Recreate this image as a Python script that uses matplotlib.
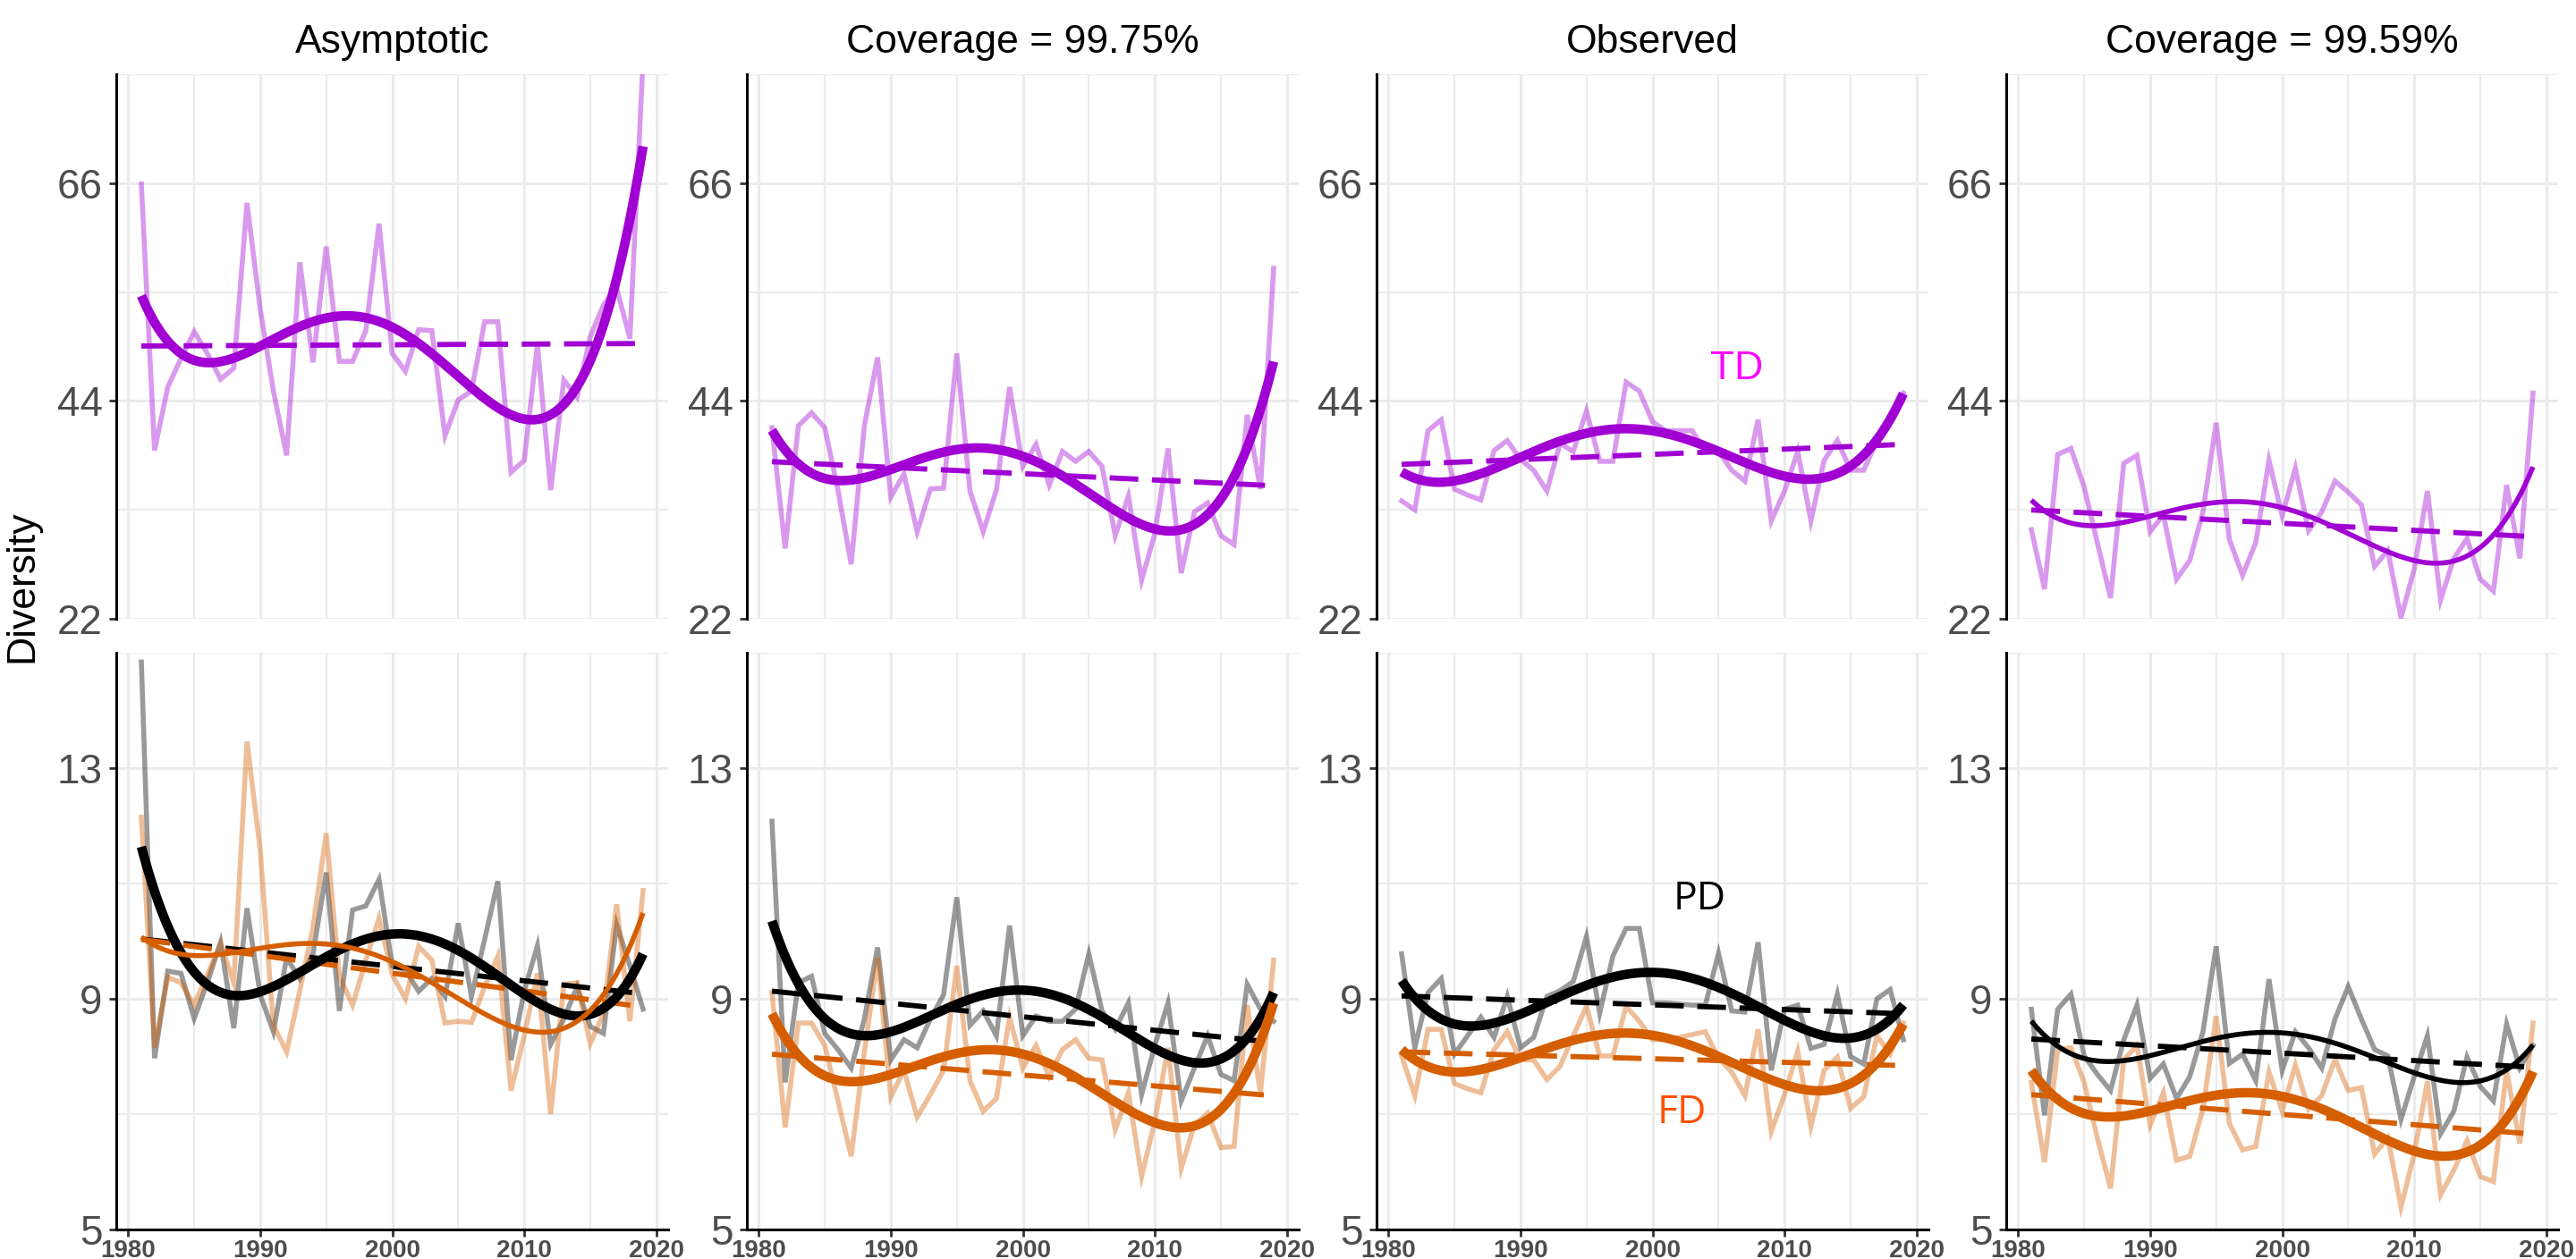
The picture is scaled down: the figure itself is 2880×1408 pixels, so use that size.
import numpy as np
import matplotlib.pyplot as plt

plt.rcParams['font.family'] = ['Liberation Sans', 'DejaVu Sans']

years = list(range(1981, 2020))
titles = ["Asymptotic", "Coverage = 99.75%", "Observed", "Coverage = 99.59%"]

# taxonomic diversity (TD)
td_asymptotic = [65.9, 39.0, 45.4, 48.3, 51.0, 48.8, 46.2, 47.3, 64.0, 53.3,
                 45.0, 38.5, 58.0, 47.9, 59.6, 48.0, 48.0, 51.1, 61.9, 48.8,
                 47.0, 51.2, 51.1, 40.5, 44.1, 45.0, 52.0, 52.0, 36.8, 38.0,
                 49.7, 35.0, 46.1, 44.4, 50.5, 53.7, 55.4, 50.3, 78.5]
td_cov_1 = [41.3, 29.1, 41.5, 42.8, 41.3, 35.0, 27.5, 41.5, 48.4, 34.3,
            36.6, 30.8, 35.1, 35.2, 48.8, 34.9, 30.8, 35.0, 45.4, 37.4,
            39.6, 35.5, 38.9, 37.9, 38.9, 37.4, 30.4, 34.4, 25.9, 30.6,
            39.2, 26.6, 32.8, 33.7, 30.4, 29.5, 42.6, 35.1, 57.4]
td_observed = [33.9, 33.0, 41.0, 42.1, 35.1, 34.5, 34.0, 39.0, 40.0, 38.1,
               37.0, 34.9, 39.7, 38.9, 43.0, 37.9, 37.9, 45.9, 45.0, 41.9,
               41.0, 41.0, 41.0, 38.9, 38.9, 37.0, 35.9, 42.1, 31.9, 34.9,
               38.9, 31.9, 38.0, 40.0, 37.0, 37.0, 40.0, 42.6, 44.8]
td_cov_2 = [31.0, 25.0, 38.6, 39.2, 35.3, 29.7, 24.1, 37.7, 38.5, 30.8,
            32.5, 26.0, 27.9, 32.8, 41.8, 30.0, 26.4, 29.7, 38.0, 32.4,
            37.2, 30.9, 32.8, 35.9, 34.8, 33.5, 27.3, 28.9, 22.1, 27.0,
            34.9, 23.9, 28.1, 30.1, 26.0, 24.8, 35.5, 28.1, 44.8]

# phylogenetic diversity (PD)
pd_asymptotic = [14.84, 7.97, 9.48, 9.44, 8.66, 9.28, 9.98, 8.49, 10.57, 9.07,
                 8.43, 9.71, 9.35, 9.78, 11.19, 8.79, 10.54, 10.61, 11.07, 9.57,
                 9.50, 9.13, 9.35, 9.04, 10.31, 9.04, 10.03, 11.04, 7.94, 9.14,
                 9.92, 8.21, 8.65, 9.21, 8.52, 8.40, 10.29, 9.57, 8.82]
pd_cov_1 = [12.08, 7.55, 9.28, 9.39, 8.40, 8.12, 7.80, 8.65, 9.89, 7.94,
            8.29, 8.15, 8.65, 9.07, 10.76, 8.54, 8.79, 8.36, 10.27, 8.36,
            8.70, 8.61, 8.61, 8.82, 9.78, 8.79, 8.47, 8.93, 7.34, 8.19,
            8.93, 7.23, 7.80, 8.36, 7.69, 7.58, 9.25, 8.82, 8.61]
pd_observed = [9.78, 8.15, 9.11, 9.35, 8.04, 8.36, 8.68, 8.33, 9.04, 8.15,
               8.33, 9.04, 9.14, 9.30, 10.08, 8.75, 9.74, 10.22, 10.22, 8.93,
               8.93, 8.91, 8.89, 8.89, 9.79, 8.79, 8.77, 9.98, 7.76, 8.82,
               8.89, 8.14, 8.21, 9.08, 8.00, 7.87, 9.00, 9.16, 8.29]
pd_cov_2 = [8.82, 6.98, 8.82, 9.08, 8.01, 7.69, 7.41, 8.29, 8.89, 7.62,
            7.87, 7.27, 7.65, 8.43, 9.91, 7.88, 8.04, 7.58, 9.34, 7.76,
            8.43, 8.15, 7.80, 8.65, 9.21, 8.65, 8.12, 8.01, 6.91, 7.65,
            8.36, 6.66, 7.05, 7.99, 7.48, 7.23, 8.56, 7.80, 8.19]

# functional diversity (FD)
fd_asymptotic = [12.15, 8.15, 9.37, 9.28, 8.89, 9.42, 9.96, 9.28, 13.46, 11.58,
                 8.54, 8.08, 9.14, 10.24, 11.87, 9.39, 8.89, 9.67, 10.40, 9.42,
                 9.00, 9.91, 9.67, 8.58, 8.61, 8.59, 9.21, 9.74, 7.41, 8.36,
                 9.44, 7.00, 9.25, 9.28, 8.22, 8.75, 10.64, 8.61, 10.88]
fd_cov_1 = [9.11, 6.77, 8.58, 8.58, 8.19, 7.23, 6.27, 8.08, 9.71, 7.30,
            7.76, 6.95, 7.34, 7.76, 9.57, 7.58, 7.05, 7.27, 8.68, 7.80,
            8.19, 7.65, 8.12, 8.29, 7.97, 7.94, 6.73, 7.37, 5.92, 6.88,
            8.15, 6.06, 6.81, 7.02, 6.42, 6.44, 8.89, 7.37, 9.67]
fd_observed = [8.01, 7.32, 8.47, 8.47, 7.53, 7.44, 7.37, 8.12, 8.43, 7.94,
               7.94, 7.60, 7.83, 8.36, 8.87, 8.01, 8.01, 8.87, 8.61, 8.29,
               8.30, 8.33, 8.38, 8.43, 7.97, 7.73, 7.32, 8.47, 6.70, 7.34,
               8.09, 6.79, 7.76, 7.99, 7.10, 7.30, 8.36, 8.04, 8.58]
fd_cov_2 = [7.55, 6.17, 8.12, 8.15, 7.55, 6.59, 5.71, 7.94, 8.19, 6.81,
            7.37, 6.20, 6.27, 7.09, 8.70, 6.84, 6.38, 6.44, 7.73, 7.05,
            7.85, 7.09, 7.32, 7.95, 7.41, 7.46, 6.31, 6.59, 5.39, 6.31,
            7.57, 5.60, 6.03, 6.54, 5.92, 5.83, 7.76, 6.49, 8.58]

td_all = [td_asymptotic, td_cov_1, td_observed, td_cov_2]
pd_all = [pd_asymptotic, pd_cov_1, pd_observed, pd_cov_2]
fd_all = [fd_asymptotic, fd_cov_1, fd_observed, fd_cov_2]

# thick smooth = significant trend
td_thick = [True, True, True, False]
pd_thick = [True, True, True, False]
fd_thick = [False, True, True, True]

c_td = '#A000D2'
c_pd = '#000000'
c_fd = '#D55E00'


def draw_series(ax, y, color, thick):
    x = np.array(years, dtype=float)
    y = np.array(y, dtype=float)
    ax.plot(x, y, color=color, alpha=0.4, lw=2.0, zorder=2, solid_joinstyle='miter')
    xs = np.linspace(x[0], x[-1], 200)
    p4 = np.polyfit(x - 2000, y, 4)
    ax.plot(xs, np.polyval(p4, xs - 2000), color=color, lw=3.8 if thick else 2.0,
            zorder=4, solid_capstyle='butt')
    p1 = np.polyfit(x - 2000, y, 1)
    ax.plot(xs, np.polyval(p1, xs - 2000), color=color, lw=2.1, ls=(0, (5.5, 2.6)),
            zorder=3, dash_capstyle='butt')


def style_axes(ax, ylim, major, minor, bottom):
    ax.set_xlim(1979.1, 2020.9)
    ax.set_ylim(*ylim)
    ax.set_yticks(major)
    ax.set_yticks(minor, minor=True)
    ax.set_xticks([1980, 1990, 2000, 2010, 2020])
    ax.set_xticks([1985, 1995, 2005, 2015], minor=True)
    ax.grid(which='major', color='#EBEBEB', lw=1.1)
    ax.grid(which='minor', color='#EBEBEB', lw=0.8)
    ax.set_axisbelow(True)
    for s in ['top', 'right']:
        ax.spines[s].set_visible(False)
    ax.spines['left'].set_linewidth(1.1)
    ax.tick_params(axis='y', which='major', labelsize=16.5, labelcolor='#4D4D4D',
                   length=3, width=1.0, pad=2.5, color='#333333')
    ax.tick_params(which='minor', length=0)
    if bottom:
        ax.spines['bottom'].set_linewidth(1.1)
        ax.tick_params(axis='x', which='major', labelsize=10, labelcolor='#4D4D4D',
                       length=3, width=1.0, pad=1, color='#333333')
        for lab in ax.get_xticklabels():
            lab.set_fontweight('bold')
    else:
        ax.spines['bottom'].set_visible(False)
        ax.tick_params(axis='x', which='both', length=0, labelbottom=False)


W, H = 2880, 1408
fig = plt.figure(figsize=(W / 200, H / 200), dpi=200)

lefts = [130, 835, 1539, 2243]
width = 617
top_row = (83, 692)
bot_row = (730, 1375)

for i in range(4):
    ax_t = fig.add_axes([lefts[i] / W, 1 - top_row[1] / H, width / W,
                         (top_row[1] - top_row[0]) / H])
    style_axes(ax_t, (22, 77), [22, 44, 66], [33, 55, 77], bottom=False)
    draw_series(ax_t, td_all[i], c_td, td_thick[i])

    ax_b = fig.add_axes([lefts[i] / W, 1 - bot_row[1] / H, width / W,
                         (bot_row[1] - bot_row[0]) / H])
    style_axes(ax_b, (5, 15), [5, 9, 13], [7, 11, 15], bottom=True)
    draw_series(ax_b, pd_all[i], c_pd, pd_thick[i])
    draw_series(ax_b, fd_all[i], c_fd, fd_thick[i])

    fig.text((lefts[i] + width / 2) / W, 1 - 59 / H, titles[i], ha='center',
             va='baseline', fontsize=16)

    if i == 2:
        ax_t.text(2006.4, 47.2, "TD", color='#FF00FF', fontsize=16,
                  ha='center', va='center')
        ax_b.text(2003.6, 10.72, "PD", color='black', fontsize=16,
                  ha='center', va='center', family=['Open Sans', 'DejaVu Sans'])
        ax_b.text(2002.2, 7.02, "FD", color='#FF5000', fontsize=16,
                  ha='center', va='center', family=['Open Sans', 'DejaVu Sans'])

fig.text(25 / W, 1 - 656 / H, "Diversity", rotation=90, ha='center', va='center',
         fontsize=16)

fig.savefig('out.png', dpi=200, facecolor='white')
